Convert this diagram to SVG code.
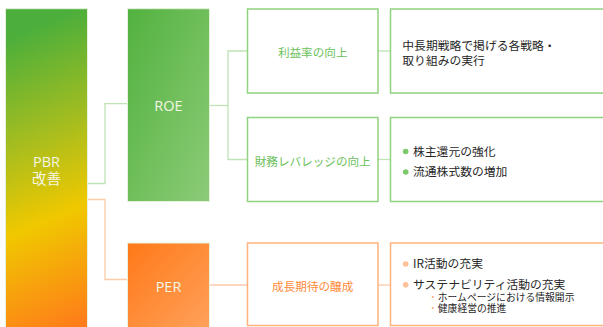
<svg xmlns="http://www.w3.org/2000/svg" width="603" height="327" viewBox="0 0 603 327">
<defs>
<linearGradient id="gPBR" gradientUnits="userSpaceOnUse" x1="5" y1="20" x2="127" y2="309">
<stop offset="0.06" stop-color="#4caf3b"/>
<stop offset="0.38" stop-color="#a5bd1f"/>
<stop offset="0.64" stop-color="#f0c800"/>
<stop offset="1" stop-color="#ff7a1a"/>
</linearGradient>
<linearGradient id="gROE" x1="0" y1="0" x2="1" y2="1">
<stop offset="0" stop-color="#52b23e"/>
<stop offset="1" stop-color="#8ccb78"/>
</linearGradient>
<linearGradient id="gPER" x1="0" y1="0" x2="1" y2="1">
<stop offset="0" stop-color="#ff7918"/>
<stop offset="1" stop-color="#ffa25c"/>
</linearGradient>
</defs>
<style>
.main{stroke:#e6f2dc;stroke-width:1}
.mtxt{font-family:"Open Sans","Noto Sans CJK JP",sans-serif;font-size:14.5px;fill:#f4f6e6;text-anchor:middle}
.gbox{fill:#fff;stroke:#90d27f;stroke-width:1.5}
.obox{fill:#fff;stroke:#ffb27c;stroke-width:1.5}
.gl{fill:none;stroke:#bfe3b5;stroke-width:1.3}
.ol{fill:none;stroke:#ffcaa8;stroke-width:1.3}
.gt{font-family:"Noto Sans CJK JP",sans-serif;font-size:11.6px;fill:#6cc15c;text-anchor:middle}
.ot{font-family:"Noto Sans CJK JP",sans-serif;font-size:11.6px;fill:#ff8a38;text-anchor:middle}
.bt{font-family:"Noto Sans CJK JP",sans-serif;font-size:11.8px;fill:#262626}
.st{font-size:9.8px}
</style>
<g id="connectors">
<polyline class="gl" points="88,183.5 105,183.5 105,103.7 127.5,103.7"/>
<polyline class="ol" points="88,199.5 105,199.5 105,279.5 127.5,279.5"/>
<polyline class="gl" points="209.5,105.5 228,105.5"/>
<polyline class="gl" points="248,51 228,51 228,159.5 248,159.5"/>
<line class="ol" x1="209.5" y1="285" x2="248" y2="285"/>
<line class="gl" x1="378" y1="51" x2="390.5" y2="51"/>
<line class="gl" x1="378" y1="159.5" x2="390.5" y2="159.5"/>
<line class="ol" x1="378" y1="285" x2="390.5" y2="285"/>
</g>
<g id="pbr">
<rect class="main" x="5.5" y="8.7" width="82" height="325" fill="url(#gPBR)"/>
<text class="mtxt" x="46.5" y="167">PBR<tspan x="46.5" dy="17">改善</tspan></text>
</g>
<g id="roe">
<rect class="main" x="127.5" y="8.7" width="82" height="192.8" fill="url(#gROE)"/>
<text class="mtxt" x="168.5" y="111">ROE</text>
</g>
<g id="per">
<rect class="main" x="127.5" y="243" width="82" height="90" fill="url(#gPER)"/>
<text class="mtxt" x="168.5" y="292">PER</text>
</g>
<g id="profit">
<rect class="gbox" x="247.5" y="9" width="130.5" height="84"/>
<text class="gt" x="312.7" y="57">利益率の向上</text>
</g>
<g id="leverage">
<rect class="gbox" x="247.5" y="117.5" width="130.5" height="84"/>
<text class="gt" x="312.7" y="165.5">財務レバレッジの向上</text>
</g>
<g id="growth">
<rect class="obox" x="247.5" y="243" width="130.5" height="82.5"/>
<text class="ot" x="312.7" y="291">成長期待の醸成</text>
</g>
<g id="strategy">
<rect class="gbox" x="390.5" y="9" width="220" height="84"/>
<text class="bt" x="402.3" y="49.5">中長期戦略で掲げる各戦略・<tspan x="402.3" dy="15">取り組みの実行</tspan></text>
</g>
<g id="return">
<rect class="gbox" x="390.5" y="117.5" width="220" height="84"/>
<circle cx="405.7" cy="151.5" r="2.8" fill="#7cc86a"/>
<text class="bt" x="413" y="155.5">株主還元の強化</text>
<circle cx="405.7" cy="172" r="2.8" fill="#7cc86a"/>
<text class="bt" x="413" y="176">流通株式数の増加</text>
</g>
<g id="ir">
<rect class="obox" x="390.5" y="243" width="220" height="82.5"/>
<circle cx="405.7" cy="264" r="2.8" fill="#ffc197"/>
<text class="bt" x="413" y="268">IR活動の充実</text>
<circle cx="405.7" cy="284.8" r="2.8" fill="#ffc197"/>
<text class="bt" x="413" y="288.8">サステナビリティ活動の充実<tspan class="st" x="428" y="300.6"><tspan fill="#ffb080">・</tspan>ホームページにおける情報開示</tspan><tspan class="st" x="428" y="312.3"><tspan fill="#ffb080">・</tspan>健康経営の推進</tspan></text>
</g>
</svg>
